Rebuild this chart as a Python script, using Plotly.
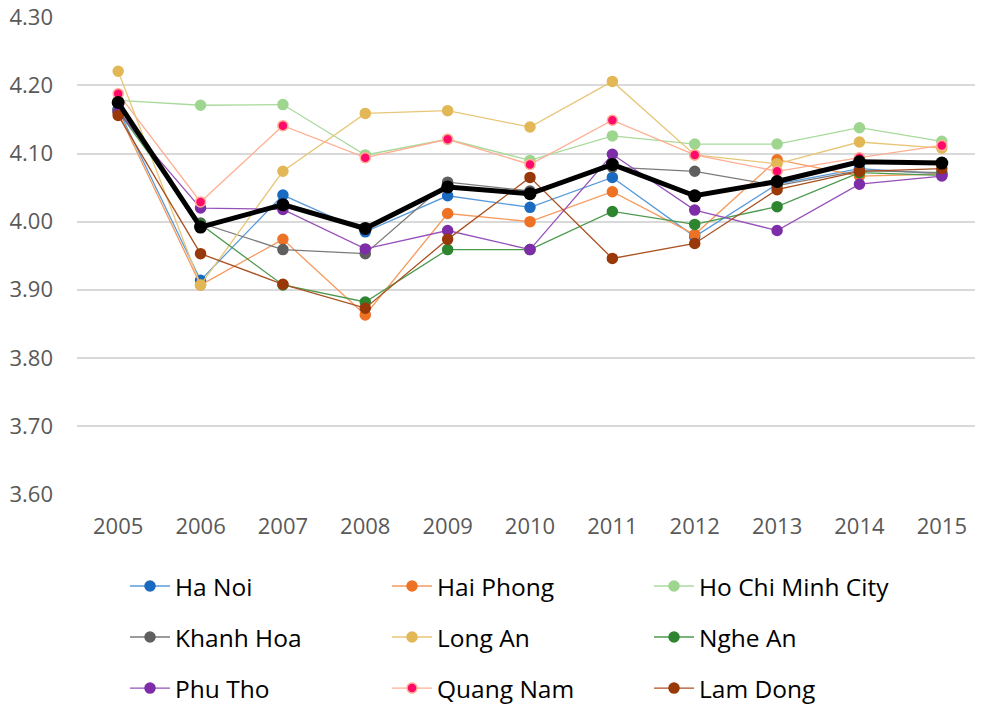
import plotly.graph_objects as go

years = ["2005", "2006", "2007", "2008", "2009", "2010", "2011", "2012", "2013", "2014", "2015"]

ha_noi = [4.165, 3.914, 4.039, 3.985, 4.038, 4.021, 4.065, 3.978, 4.055, 4.078, 4.070]
hai_phong = [4.160, 3.907, 3.974, 3.863, 4.012, 4.000, 4.044, 3.981, 4.091, 4.067, 4.070]
ho_chi_minh = [4.178, 4.171, 4.172, 4.098, 4.121, 4.090, 4.126, 4.114, 4.114, 4.138, 4.118]
khanh_hoa = [4.165, 3.998, 3.959, 3.953, 4.058, 4.045, 4.080, 4.074, 4.053, 4.075, 4.072]
long_an = [4.221, 3.907, 4.074, 4.159, 4.163, 4.139, 4.206, 4.098, 4.085, 4.117, 4.108]
nghe_an = [4.162, 3.996, 3.907, 3.882, 3.959, 3.959, 4.015, 3.996, 4.022, 4.072, 4.068]
phu_tho = [4.161, 4.020, 4.018, 3.960, 3.987, 3.959, 4.099, 4.017, 3.987, 4.055, 4.067]
quang_nam = [4.188, 4.029, 4.141, 4.094, 4.121, 4.084, 4.149, 4.098, 4.074, 4.094, 4.112]
lam_dong = [4.156, 3.953, 3.908, 3.873, 3.974, 4.065, 3.946, 3.968, 4.047, 4.074, 4.078]
average = [4.175, 3.992, 4.025, 3.990, 4.051, 4.041, 4.084, 4.038, 4.059, 4.088, 4.086]

y_ticks = [3.60, 3.70, 3.80, 3.90, 4.00, 4.10, 4.20, 4.30]

series = [
    ("Ha Noi", ha_noi, "#1A6BC0", "#5B9BD9", "#1A6BC0", "legend"),
    ("Hai Phong", hai_phong, "#EE7225", "#F59A5E", "#EE7225", "legend"),
    ("Ho Chi Minh City", ho_chi_minh, "#9ED68F", "#A9DA9C", "#9ED68F", "legend"),
    ("Khanh Hoa", khanh_hoa, "#5F5F5F", "#7A7A7A", "#5F5F5F", "legend2"),
    ("Long An", long_an, "#E2B756", "#E8C678", "#E2B756", "legend2"),
    ("Nghe An", nghe_an, "#2E8530", "#4C9A4D", "#2E8530", "legend2"),
    ("Phu Tho", phu_tho, "#7E2DA8", "#9650BA", "#7E2DA8", "legend3"),
    ("Quang Nam", quang_nam, "#FF0A6A", "#FFAE92", "#FFAE92", "legend3"),
    ("Lam Dong", lam_dong, "#993808", "#A9501F", "#993808", "legend3"),
]

fig = go.Figure()
for name, vals, mcol, lcol, bcol, lg in series:
    fig.add_trace(go.Scatter(
        x=years, y=vals, name=name, mode="lines+markers",
        line=dict(color=lcol, width=1.3),
        marker=dict(color=mcol, size=10, line=dict(color=bcol, width=1.5)),
        legend=lg,
    ))

fig.add_trace(go.Scatter(
    x=years, y=average, name="Average", mode="lines+markers",
    line=dict(color="#000000", width=5),
    marker=dict(color="#000000", size=13),
    showlegend=False,
))

font_family = "Open Sans, Noto Sans, Liberation Sans, sans-serif"
leg_common = dict(
    orientation="h", entrywidth=207, entrywidthmode="pixels",
    font=dict(family=font_family, size=24.5, color="#000000"),
    bgcolor="rgba(0,0,0,0)", xanchor="left", yanchor="middle",
    itemwidth=40, tracegroupgap=0,
)

# The page body adds an 8 px offset, so the figure is sized to fill the rest.
fig.update_layout(
    width=975, height=696,
    paper_bgcolor="white", plot_bgcolor="white",
    margin=dict(l=69, r=0, t=9, b=210, autoexpand=False),
    xaxis=dict(
        type="category", range=[-0.5, 10.5], showgrid=False, showline=False,
        zeroline=False, ticks="",
        tickfont=dict(family=font_family, size=22, color="#595959"),
        ticklabelstandoff=17,
    ),
    yaxis=dict(
        range=[3.60, 4.3006], tickvals=y_ticks, tickformat=".2f",
        showgrid=True, gridcolor="#D9D9D9", gridwidth=1.5,
        zeroline=False, showline=False, ticks="",
        tickfont=dict(family=font_family, size=22, color="#595959"),
        ticklabelstandoff=23, ticklabeloverflow="allow",
    ),
    legend=dict(x=0.053, y=-0.193, **leg_common),
    legend2=dict(x=0.053, y=-0.300, **leg_common),
    legend3=dict(x=0.053, y=-0.407, **leg_common),
)

fig.write_html("out.html")
